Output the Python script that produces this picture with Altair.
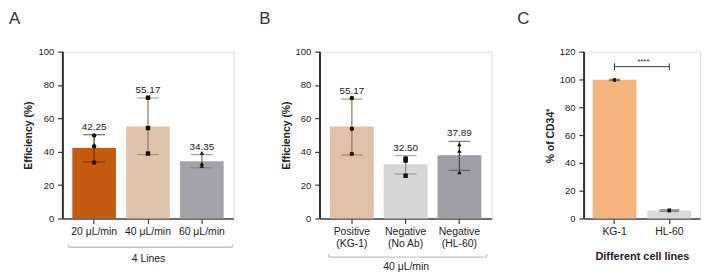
import altair as alt
import pandas as pd

FONT = "Liberation Sans"

# ---------------- Panel A ----------------
a_cats = ["20 μL/min", "40 μL/min", "60 μL/min"]
a_means = [42.25, 55.17, 34.35]
a_lo = [33.9, 38.3, 30.4]
a_hi = [50.2, 72.2, 38.3]
a_pts = [[49.8, 43.3, 33.5], [72.4, 54.2, 38.9], [39.3, 32.9, 31.5]]
a_shapes = ["circle", "square", "triangle-up"]
a_bar_colors = ["#c55a11", "#dfc4ad", "#a3a3a9"]
a_err_colors = ["#6b3512", "#a57b5e", "#7d7d7d"]
a_group = "4 Lines"

# ---------------- Panel B ----------------
b_cats = ["Positive\n(KG-1)", "Negative\n(No Ab)", "Negative\n(HL-60)"]
b_means = [55.17, 32.50, 37.89]
b_lo = [38.1, 26.6, 28.8]
b_hi = [71.6, 37.7, 46.2]
b_pts = [[72.2, 53.8, 38.7], [35.9, 34.7, 25.6], [44.4, 40.5, 27.6]]
b_shapes = ["circle", "square", "triangle-up"]
b_bar_colors = ["#e0c0a7", "#d6d6d6", "#9e9ea4"]
b_err_colors = ["#a6785c", "#8c8c8c", "#4f4f4f"]
b_group = "40 μL/min"

# ---------------- Panel C ----------------
c_cats = ["KG-1", "HL-60"]
c_means = [99.7, 5.7]
c_lo = [99.2, 5.2]
c_hi = [100.1, 6.2]
c_pts = [[99.3, 99.6, 100.0], [5.4, 5.8, 6.0]]
c_shapes = ["square", "circle"]
c_bar_colors = ["#f4b47e", "#d9d9d9"]
c_err_colors = ["#6e4a2a", "#555555"]
c_sig = "****"
c_sig_y = 109.2


def bars_df(cats, means, lo, hi):
    return pd.DataFrame({
        "cat": cats, "mean": means, "lo": lo, "hi": hi,
        "label": [f"{m:.2f}" for m in means],
    })


def pts_df(cats, pts):
    rows = []
    for c, vals in zip(cats, pts):
        for v in vals:
            rows.append({"cat": c, "v": v})
    return pd.DataFrame(rows)


def build_panel(letter, letter_dx, cats, means, lo, hi, pts, shapes,
                bar_colors, err_colors, width, ydomain, yvalues, ytitle,
                xtitle, xtitle_pad, xtitle_bold, cap_sizes, pinner, pouter,
                pt_size=20, bracket=None, show_labels=True, multiline=False, sig=None):
    bdf = bars_df(cats, means, lo, hi)
    pdf = pts_df(cats, pts)
    xaxis = alt.Axis(
        title=xtitle, labelAngle=0, tickSize=5, labelPadding=3,
        labelFontSize=10.5, labelColor="#222", titleFontSize=11 if xtitle_bold else 10.5,
        titleFontWeight="bold" if xtitle_bold else "normal", titleColor="#222",
        titlePadding=xtitle_pad, domainColor="#444", tickColor="#444",
        domainWidth=1.5, tickWidth=1.2, labelLineHeight=12,
        **({"labelExpr": "split(datum.label, '\\n')"} if multiline else {}),
    )
    yscale = alt.Scale(domain=ydomain, nice=False, zero=True)
    yaxis = alt.Axis(
        values=yvalues, title=ytitle, grid=False, domain=True, ticks=True,
        tickSize=5, labelPadding=4, labelOverlap=False,
        labelFontSize=9.5, labelColor="#222", titleFontSize=10.5, titleFontWeight="bold",
        titleColor="#222", titlePadding=4, domainColor="#333", tickColor="#333",
        domainWidth=1.5, tickWidth=1.2,
    )

    def Y(field):
        return alt.Y(field, scale=yscale, axis=yaxis)

    def X(field="cat:N"):
        return alt.X(field, sort=cats,
                     scale=alt.Scale(domain=cats, paddingInner=pinner, paddingOuter=pouter),
                     axis=xaxis)

    base = alt.Chart(bdf)
    bars = base.mark_bar(opacity=1).encode(
        x=X(), y=Y("mean:Q"),
        color=alt.Color("cat:N", scale=alt.Scale(domain=cats, range=bar_colors), legend=None),
    )
    err = base.mark_rule(strokeWidth=1.3).encode(
        x=X(),
        y=Y("lo:Q"), y2="hi:Q",
        color=alt.Color("cat:N", scale=alt.Scale(domain=cats, range=err_colors), legend=None),
    )
    cap_df_rows = []
    for c, l_, h_, s in zip(cats, lo, hi, cap_sizes):
        cap_df_rows.append({"cat": c, "v": l_, "s": s})
        cap_df_rows.append({"cat": c, "v": h_, "s": s})
    cap_df = pd.DataFrame(cap_df_rows)
    caps = alt.Chart(cap_df).mark_tick(thickness=1.3).encode(
        x=X(),
        y=Y("v:Q"),
        size=alt.Size("s:Q", scale=None, legend=None),
        color=alt.Color("cat:N", scale=alt.Scale(domain=cats, range=err_colors), legend=None),
    )
    points = alt.Chart(pdf).mark_point(filled=True, size=pt_size, color="#111", opacity=1).encode(
        x=X(),
        y=Y("v:Q"),
        shape=alt.Shape("cat:N", scale=alt.Scale(domain=cats, range=shapes), legend=None),
    )
    one = pd.DataFrame({"k": [0]})
    yline = alt.Chart(one).mark_rule(color="#333", strokeWidth=1.5).encode(
        x=alt.value(0), y=alt.value(0), y2=alt.value(168))
    layers = [bars, err, caps, points, yline]
    if show_labels:
        labels = base.mark_text(baseline="bottom", dy=-3, fontSize=10, color="#222", font=FONT).encode(
            x=X(), y=Y("hi:Q"), text="label:N",
        )
        layers.append(labels)
    if bracket is not None:
        bx0, bx1, by = bracket
        line = alt.Chart(one).mark_rule(color="#c4c4c4", strokeWidth=1.3).encode(
            x=alt.value(bx0), x2=alt.value(bx1), y=alt.value(by))
        end0 = alt.Chart(one).mark_rule(color="#c4c4c4", strokeWidth=1.3).encode(
            x=alt.value(bx0), y=alt.value(by - 3), y2=alt.value(by))
        end1 = alt.Chart(one).mark_rule(color="#c4c4c4", strokeWidth=1.3).encode(
            x=alt.value(bx1), y=alt.value(by - 3), y2=alt.value(by))
        layers += [line, end0, end1]
    if sig is not None:
        sig_text, sig_y = sig
        sdf = pd.DataFrame({"cat": [cats[0]], "cat2": [cats[1]], "y": [sig_y],
                            "y0": [sig_y - 2.4], "y1": [sig_y + 2.4], "t": [sig_text]})
        sline = alt.Chart(sdf).mark_rule(color="#333", strokeWidth=1).encode(
            x=X("cat:N"), x2="cat2:N", y=Y("y:Q"))
        se0 = alt.Chart(sdf).mark_rule(color="#333", strokeWidth=1).encode(
            x=X("cat:N"), y=Y("y0:Q"), y2="y1:Q")
        se1 = alt.Chart(sdf).mark_rule(color="#333", strokeWidth=1).encode(
            x=X("cat2:N"), y=Y("y0:Q"), y2="y1:Q")
        stext = alt.Chart(sdf).mark_text(fontSize=8, color="#333", baseline="bottom",
                                         dy=-1, dx=29, font=FONT).encode(
            x=X("cat:N"), y=Y("y:Q"), text="t:N")
        layers += [sline, se0, se1, stext]
    ldf = pd.DataFrame({"t": [letter]})
    let = alt.Chart(ldf).mark_text(fontSize=17, align="left", baseline="top",
                                   color="#333", font=FONT).encode(
        x=alt.value(letter_dx), y=alt.value(-41), text="t:N")
    layers.append(let)
    return alt.layer(*layers).resolve_scale(color="independent").properties(
        width=width, height=168)


panel_a = build_panel("A", -54, a_cats, a_means, a_lo, a_hi, a_pts, a_shapes,
                      a_bar_colors, a_err_colors, 172, [0, 100], [0, 20, 40, 60, 80, 100],
                      "Efficiency (%)", a_group, 17, False, [22, 22, 22], 0.19, 0.18,
                      bracket=(6, 171, 197))
panel_b = build_panel("B", -61, b_cats, b_means, b_lo, b_hi, b_pts, b_shapes,
                      b_bar_colors, b_err_colors, 173, [0, 100], [0, 20, 40, 60, 80, 100],
                      "Efficiency (%)", b_group, 13, False, [22, 22, 22], 0.185, 0.19,
                      bracket=(9, 168, 207), multiline=True)
panel_c = build_panel("C", -67, c_cats, c_means, c_lo, c_hi, c_pts, c_shapes,
                      c_bar_colors, c_err_colors, 117, [0, 120], [0, 20, 40, 60, 80, 100, 120],
                      "% of CD34⁺", "Different cell lines", 14, True, [11, 20], 0.2, 0.16,
                      pt_size=10, show_labels=False, sig=(c_sig, c_sig_y))

chart = alt.hconcat(panel_a, panel_b, panel_c, spacing=24).properties(
    padding=0
).configure_view(stroke=None).configure(font=FONT)

chart.save("out.html", embed_options={"renderer": "svg", "actions": False})
